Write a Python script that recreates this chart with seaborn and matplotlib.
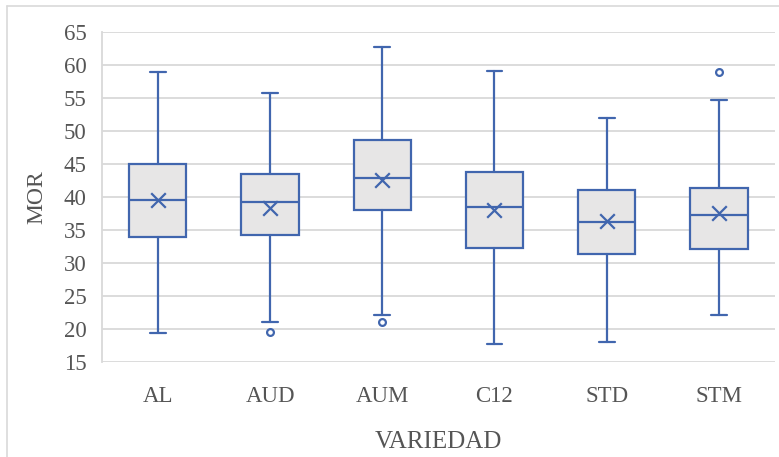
import matplotlib
matplotlib.use("Agg")
import matplotlib.pyplot as plt
import seaborn as sns
import pandas as pd
from matplotlib.lines import Line2D

categories = ["AL", "AUD", "AUM", "C12", "STD", "STM"]
whisker_low = [19.5, 21.1, 22.1, 17.8, 18.0, 22.1]
q1 = [33.9, 34.2, 38.0, 32.3, 31.4, 32.1]
median = [39.6, 39.2, 42.85, 38.5, 36.25, 37.35]
mean = [39.5, 38.4, 42.5, 38.0, 36.3, 37.55]
q3 = [45.0, 43.55, 48.6, 43.85, 41.1, 41.35]
whisker_high = [58.9, 55.7, 62.7, 59.0, 52.0, 54.7]
outlier_cat = ["AUD", "AUM", "STM"]
outlier_val = [19.6, 21.1, 58.9]
y_ticks = [15, 20, 25, 30, 35, 40, 45, 50, 55, 60, 65]

sns.set_theme(style="white")
plt.rcParams["font.family"] = ["Liberation Serif", "DejaVu Serif"]

BLUE = "#4166AE"
FILL = "#E7E6E6"
GRID = "#D9D9D9"
TXT = "#555555"

fig = plt.figure(figsize=(7.79, 4.57), dpi=100)
ax = fig.add_axes([0.1306, 0.2072, 0.8643, 0.7234])

stats = []
for i, c in enumerate(categories):
    stats.append(dict(label=c, whislo=whisker_low[i], q1=q1[i], med=median[i],
                      q3=q3[i], whishi=whisker_high[i], mean=mean[i], fliers=[]))

lw = 1.6
ax.bxp(stats, positions=range(len(categories)), widths=0.51, capwidths=0.14,
       patch_artist=True, showmeans=False, showfliers=False,
       boxprops=dict(facecolor=FILL, edgecolor=BLUE, linewidth=lw),
       medianprops=dict(color=BLUE, linewidth=lw),
       whiskerprops=dict(color=BLUE, linewidth=lw),
       capprops=dict(color=BLUE, linewidth=lw), zorder=3)

mean_df = pd.DataFrame({"cat": list(range(len(categories))), "mean": mean})
sns.scatterplot(data=mean_df, x="cat", y="mean", marker="x", s=110,
                color=BLUE, linewidth=1.6, ax=ax, zorder=4)

out_df = pd.DataFrame({"cat": [categories.index(c) for c in outlier_cat], "val": outlier_val})
sns.scatterplot(data=out_df, x="cat", y="val", marker="o", s=24,
                facecolor="white", edgecolor=BLUE, linewidth=1.6, ax=ax, zorder=4)

ax.set_xlim(-0.5, len(categories) - 0.5)
ax.set_ylim(15, 65)
ax.set_yticks(y_ticks)
ax.set_xticks(range(len(categories)))
ax.set_xticklabels(categories)
ax.yaxis.grid(True, color=GRID, linewidth=1.3, zorder=0)
ax.set_axisbelow(True)
for s in ["top", "right", "bottom"]:
    ax.spines[s].set_visible(False)
ax.spines["left"].set_color(GRID)
ax.spines["left"].set_linewidth(1.3)
ax.tick_params(axis="y", length=0, pad=11, labelsize=16.5, labelcolor=TXT)
ax.tick_params(axis="x", length=0, pad=17, labelsize=16.5, labelcolor=TXT)
ax.set_xlabel("VARIEDAD", fontsize=18, color=TXT, labelpad=17)
ax.set_ylabel("MOR", fontsize=17, color=TXT, labelpad=12)

fig.add_artist(Line2D([7 / 779, 7 / 779], [0, 1 - 6 / 457], transform=fig.transFigure,
                      color=GRID, linewidth=1.2))
fig.add_artist(Line2D([7 / 779, 1], [1 - 6 / 457, 1 - 6 / 457], transform=fig.transFigure,
                      color=GRID, linewidth=1.2))

fig.savefig("out.png", dpi=100)
